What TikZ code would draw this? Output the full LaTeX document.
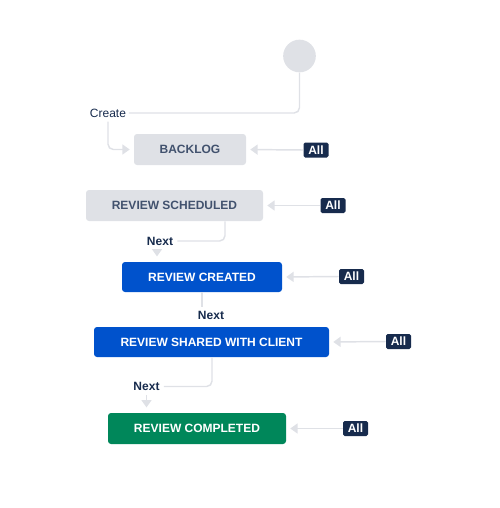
\documentclass[tikz,border=0pt]{standalone}
\usepackage{fontspec}
\setmainfont{Liberation Sans}
\usetikzlibrary{arrows.meta}
\definecolor{lineg}{HTML}{DFE1E6}
\definecolor{boxg}{HTML}{DFE1E6}
\definecolor{txtg}{HTML}{42526E}
\definecolor{navy}{HTML}{172B4D}
\definecolor{jblue}{HTML}{0052CC}
\definecolor{jgreen}{HTML}{00875A}
\begin{document}
\begin{tikzpicture}[x=0.75pt,y=-0.75pt,
  status/.style={rectangle, rounded corners=2.25pt, inner sep=0pt,
    font=\bfseries\fontsize{9}{10}\selectfont},
  grey/.style={status, fill=boxg, text=txtg},
  bluebox/.style={status, fill=jblue, text=white},
  greenbox/.style={status, fill=jgreen, text=white},
  alltag/.style={rectangle, rounded corners=1.2pt, fill=navy, text=white, inner sep=0pt,
    minimum width=18.75pt, minimum height=11.25pt, font=\bfseries\fontsize{9}{10}\selectfont},
  lbl/.style={inner sep=0pt, text=navy, font=\fontsize{9}{10}\selectfont},
  conn/.style={draw=lineg, line width=1.1pt, rounded corners=4pt},
  arr/.style={conn, -{Triangle[length=5.5pt,width=7.5pt]}, shorten >=3pt}
]
\useasboundingbox (0,0) rectangle (500,508);

\node[circle, fill=boxg, minimum size=24.5pt, inner sep=0pt] (start) at (299.5,56) {};
\node[lbl] (create) at (108,113) {Create};

\node[grey, minimum width=84pt, minimum height=23.25pt] (backlog) at (190,149.5) {BACKLOG};
\node[alltag] (all1) at (316,150) {All};

\node[grey, minimum width=132.75pt, minimum height=23.25pt] (sched) at (174.5,205.5) {REVIEW SCHEDULED};
\node[alltag] (all2) at (333,205.5) {All};
\node[lbl, font=\bfseries\fontsize{9}{10}\selectfont] (next1) at (160,241) {Next};

\node[bluebox, minimum width=120pt, minimum height=22.5pt] (created) at (202,277) {REVIEW CREATED};
\node[alltag] (all3) at (351.5,276.5) {All};
\node[lbl, font=\bfseries\fontsize{9}{10}\selectfont] (next2) at (211,315) {Next};

\node[bluebox, minimum width=176.25pt, minimum height=22.5pt] (shared) at (211.5,342) {REVIEW SHARED WITH CLIENT};
\node[alltag] (all4) at (398.5,341.5) {All};
\node[lbl, font=\bfseries\fontsize{9}{10}\selectfont] (next3) at (146.5,386.5) {Next};

\node[greenbox, minimum width=133.5pt, minimum height=23.25pt] (completed) at (197,428.5) {REVIEW COMPLETED};
\node[alltag] (all5) at (355.5,428.5) {All};

% start -> Create -> Backlog
\draw[conn] (start.south) |- ([xshift=2pt]create.east);
\draw[arr] ([yshift=-3pt]create.south) |- (backlog.west);

% All -> statuses
\draw[arr] (all1.west) -- (backlog.east);
\draw[arr] (all2.west) -- (sched.east);
\draw[arr] (all3.west) -- (created.east);
\draw[arr] (all4.west) -- (shared.east);
\draw[arr] (all5.west) -- (completed.east);

% Next transitions
\draw[conn] (sched.south -| 225,0) |- ([xshift=3pt]next1.east);
\draw[arr, shorten >=4pt] ([xshift=-2.25pt,yshift=-3pt]next1.south) -- ([xshift=-2.25pt]next1.south |- created.north);

\draw[conn] (created.south) -- ([yshift=3pt]created.south |- next2.north);

\draw[conn] (shared.south -| 212,0) |- ([xshift=3pt]next3.east);
\draw[arr, shorten >=4pt] ([yshift=-3pt]next3.south) -- (next3.south |- completed.north);
\end{tikzpicture}
\end{document}
